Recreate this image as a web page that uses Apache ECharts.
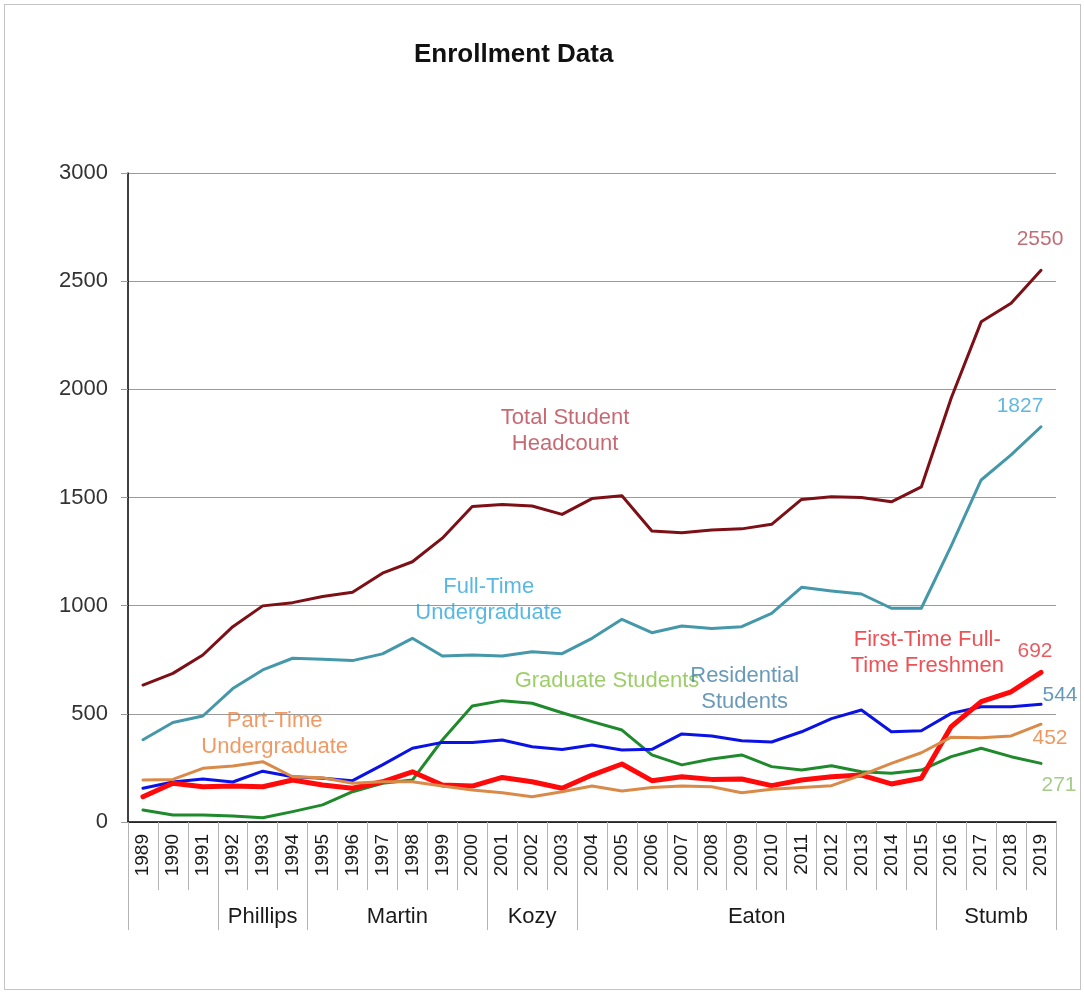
<!DOCTYPE html>
<html>
<head>
<meta charset="utf-8">
<title>Enrollment Data</title>
<script src="https://cdn.jsdelivr.net/npm/echarts@6/dist/echarts.min.js"></script>
<style>
  html, body { margin: 0; padding: 0; background: #fff; }
  #wrap { position: relative; width: 1084px; height: 993px; }
  #chart { position: absolute; left: 0; top: 0; width: 1084px; height: 993px; }
  #frame { position: absolute; left: 4px; top: 4px; width: 1075px; height: 984px;
           border: 1px solid #c4c4c4; pointer-events: none; }
</style>
</head>
<body>
<div id="wrap">
  <div id="chart"></div>
  <div id="frame"></div>
</div>
<script>
// Academic years on the category axis
const years = ['1989','1990','1991','1992','1993','1994','1995','1996','1997','1998',
  '1999','2000','2001','2002','2003','2004','2005','2006','2007','2008','2009','2010',
  '2011','2012','2013','2014','2015','2016','2017','2018','2019'];

// Enrollment counts per year
const totalHeadcount = [633, 687, 772, 903, 999, 1014, 1042, 1062, 1150, 1203, 1312, 1458, 1468, 1461, 1422,
  1495, 1508, 1345, 1337, 1350, 1355, 1376, 1491, 1503, 1500, 1480, 1549, 1960, 2312, 2398, 2550];
const fullTimeUndergrad = [380, 460, 490, 617, 703, 757, 752, 746, 777, 849, 767, 772, 767, 787, 778,
  849, 937, 875, 906, 895, 903, 964, 1085, 1068, 1054, 988, 988, 1276, 1581, 1697, 1827];
const graduateStudents = [55, 32, 32, 28, 20, 48, 79, 140, 179, 194, 379, 536, 561, 549, 505,
  464, 425, 310, 264, 291, 310, 256, 240, 260, 232, 225, 240, 302, 341, 302, 271];
const residentialStudents = [156, 185, 199, 185, 235, 209, 202, 191, 264, 341, 368, 367, 379, 348, 335,
  356, 333, 336, 407, 398, 376, 370, 417, 478, 518, 417, 422, 502, 533, 533, 544];
const firstTimeFreshmen = [117, 179, 163, 166, 163, 194, 171, 156, 186, 232, 171, 166, 206, 186, 156,
  217, 268, 191, 209, 197, 199, 168, 194, 209, 217, 176, 202, 441, 556, 602, 692];
const partTimeUndergrad = [194, 197, 248, 259, 279, 209, 205, 179, 186, 186, 166, 148, 135, 117, 140,
  166, 143, 159, 166, 163, 135, 151, 160, 168, 217, 271, 320, 392, 390, 398, 452];

// Presidential terms: name and span in years (the first span has no name)
const termNames = ['', 'Phillips', 'Martin', 'Kozy', 'Eaton', 'Stumb'];
const termLengths = [3, 3, 6, 3, 12, 4];

// Y axis ticks
const yMin = 0, yMax = 3000, yStep = 500;

const FONT = '"Liberation Sans", Arial, Helvetica, sans-serif';

// Term boundaries and centres, measured in years from the left edge of the plot
const termEdges = [0];
termLengths.forEach(n => termEdges.push(termEdges[termEdges.length - 1] + n));
const termCentres = [];
const termByCentre = {};
termNames.forEach((name, i) => {
  if (!name) return;
  const c = (termEdges[i] + termEdges[i + 1]) / 2;
  termCentres.push(c);
  termByCentre[c] = name;
});

const seriesDefs = [
  { name: 'Total Student Headcount', data: totalHeadcount, color: '#7c1016', width: 3,
    text: 'Total Student\nHeadcount', textColor: '#b9434f', at: [14.6, 1808],
    endColor: '#b04a52', endOffset: [-1, -31] },
  { name: 'Full-Time Undergraduate', data: fullTimeUndergrad, color: '#4597aa', width: 3,
    text: 'Full-Time\nUndergraduate', textColor: '#2fa6dc', at: [12.05, 1026],
    endColor: '#38a6da', endOffset: [-21, -21] },
  { name: 'Graduate Students', data: graduateStudents, color: '#1f8a2c', width: 3,
    text: 'Graduate Students', textColor: '#86c244', at: [16.0, 652],
    endColor: '#8fbf6c', endOffset: [18, 22] },
  { name: 'Residential Students', data: residentialStudents, color: '#0b12e4', width: 3,
    text: 'Residential\nStudents', textColor: '#4581a8', at: [20.6, 615],
    endColor: '#3f80a6', endOffset: [19, -9] },
  { name: 'First-Time Full-Time Freshmen', data: firstTimeFreshmen, color: '#ff0a0a', width: 5,
    text: 'First-Time Full-\nTime Freshmen', textColor: '#e8262c', at: [26.7, 781],
    endColor: '#e2323a', endOffset: [-6, -21] },
  { name: 'Part-Time Undergraduate', data: partTimeUndergrad, color: '#da8a48', width: 3,
    text: 'Part-Time\nUndergraduate', textColor: '#ee7f3c', at: [4.9, 407],
    endColor: '#e8803a', endOffset: [9, 14] }
];

const lineSeries = seriesDefs.map(d => ({
  name: d.name,
  type: 'line',
  xAxisIndex: 0,
  yAxisIndex: 0,
  data: d.data,
  showSymbol: false,
  symbol: 'none',
  lineStyle: { color: d.color, width: d.width, join: 'round', cap: 'round' },
  itemStyle: { color: d.color },
  silent: true
}));

// Series name captions placed in data space
const captionSeries = {
  type: 'scatter',
  xAxisIndex: 1,
  yAxisIndex: 0,
  symbolSize: 1,
  itemStyle: { color: 'rgba(0,0,0,0)' },
  silent: true,
  z: 5,
  data: seriesDefs.map(d => ({
    value: d.at,
    label: {
      show: true, position: 'inside', formatter: d.text, color: d.textColor,
      fontSize: 22, lineHeight: 26, fontFamily: FONT, align: 'center', verticalAlign: 'middle'
    }
  }))
};

// Latest value printed next to the end of each line
const last = years.length - 1;
const endLabelSeries = {
  type: 'scatter',
  xAxisIndex: 0,
  yAxisIndex: 0,
  symbolSize: 1,
  itemStyle: { color: 'rgba(0,0,0,0)' },
  silent: true,
  z: 5,
  data: seriesDefs.map(d => ({
    value: [years[last], d.data[last]],
    label: {
      show: true, position: 'inside', offset: d.endOffset, formatter: String(d.data[last]),
      color: d.endColor, fontSize: 21, fontFamily: FONT, align: 'center', verticalAlign: 'middle'
    }
  }))
};

const chart = echarts.init(document.getElementById('chart'), null, { renderer: 'canvas' });

chart.setOption({
  animation: false,
  backgroundColor: '#ffffff',
  title: {
    text: 'Enrollment Data',
    left: 409,
    top: 37,
    textStyle: { fontFamily: FONT, fontWeight: 'bold', fontSize: 26, color: '#111' }
  },
  grid: { left: 128, right: 28, top: 173, bottom: 171, containLabel: false },
  xAxis: [
    {
      type: 'category',
      data: years,
      position: 'bottom',
      boundaryGap: true,
      axisLine: { show: true, lineStyle: { color: '#000', width: 1.5 } },
      axisTick: { show: true, length: 68, interval: 0, lineStyle: { color: '#b4b4b4', width: 1 } },
      axisLabel: { interval: 0, rotate: 90, margin: 12, fontSize: 19, color: '#1a1a1a', fontFamily: FONT },
      splitLine: { show: false }
    },
    {
      type: 'value',
      position: 'bottom',
      min: 0,
      max: years.length,
      axisLine: { show: false },
      axisTick: { show: true, length: 108, customValues: termEdges, lineStyle: { color: '#b4b4b4', width: 1 } },
      axisLabel: {
        show: true, customValues: termCentres, margin: 84, fontSize: 22, color: '#1a1a1a', fontFamily: FONT,
        formatter: v => termByCentre[v] || ''
      },
      splitLine: { show: false }
    }
  ],
  yAxis: {
    type: 'value',
    min: yMin,
    max: yMax,
    interval: yStep,
    axisLine: { show: true, lineStyle: { color: '#000', width: 1.5 } },
    axisTick: { show: true, length: 7, lineStyle: { color: '#999' } },
    axisLabel: { margin: 20, fontSize: 22, color: '#333', fontFamily: FONT, formatter: v => String(v) },
    splitLine: { show: true, lineStyle: { color: '#9a9a9a', width: 1.2 } }
  },
  series: [...lineSeries, captionSeries, endLabelSeries]
});
</script>
</body>
</html>
